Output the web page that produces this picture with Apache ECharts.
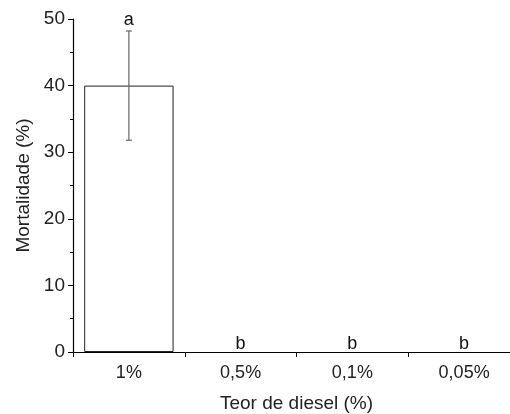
<!DOCTYPE html>
<html>
<head>
<meta charset="utf-8">
<script src="https://cdn.jsdelivr.net/npm/echarts@6/dist/echarts.min.js"></script>
<style>
  html, body { margin: 0; padding: 0; background: #fff; }
  #chart { width: 510px; height: 414px; }
</style>
</head>
<body>
<div id="chart"></div>
<script>
// dados
const categories = ["1%", "0,5%", "0,1%", "0,05%"];
const mortality = [40, 0, 0, 0];
const errors = [8.2, 0, 0, 0];
const letters = ["a", "b", "b", "b"];
const yTicks = [0, 10, 20, 30, 40, 50];

const font = "'Liberation Sans', Arial, sans-serif";

let myChart = echarts.init(document.getElementById("chart"));
let option = {
  animation: false,
  grid: {
    left: 73,
    top: 19,
    width: 447,
    height: 333,
    outerBoundsMode: "none",
  },
  xAxis: {
    type: "category",
    data: categories,
    name: "Teor de diesel (%)",
    nameLocation: "middle",
    nameGap: 42,
    nameTextStyle: { color: "#222", fontSize: 19, fontFamily: font },
    axisLine: { lineStyle: { color: "#000", width: 1.2 } },
    axisTick: { show: true, length: 5, lineStyle: { color: "#000" } },
    axisLabel: { color: "#222", fontSize: 18, fontFamily: font, margin: 12 },
  },
  yAxis: {
    type: "value",
    min: yTicks[0],
    max: yTicks[yTicks.length - 1],
    interval: 10,
    name: "Mortalidade (%)",
    nameLocation: "middle",
    nameGap: 39,
    nameTextStyle: { color: "#222", fontSize: 19, fontFamily: font },
    splitLine: { show: false },
    axisLine: { show: true, lineStyle: { color: "#000", width: 1.2 } },
    axisTick: { show: true, length: 5, lineStyle: { color: "#000" } },
    minorTick: { show: true, splitNumber: 2, length: 3, lineStyle: { color: "#000" } },
    axisLabel: { color: "#222", fontSize: 19, fontFamily: font, margin: 8 },
  },
  series: [
    {
      type: "bar",
      // barras com valor 0 não têm contorno
      data: mortality.map(v => ({
        value: v,
        itemStyle: { borderWidth: v > 0 ? 1 : 0 },
      })),
      barWidth: "80%",
      itemStyle: { color: "#fff", borderColor: "#222", borderWidth: 1 },
      z: 2,
    },
    {
      // barras de erro e letras
      type: "custom",
      data: mortality.map((v, i) => [i, v, errors[i]]),
      renderItem: function (params, api) {
        const i = api.value(0);
        const v = api.value(1);
        const e = api.value(2);
        const txt = letters[params.dataIndex];
        const top = api.coord([i, v + e]);
        const bot = api.coord([i, v - e]);
        const children = [];
        if (e > 0) {
          const style = { stroke: "#666", lineWidth: 1.2 };
          children.push(
            { type: "line", shape: { x1: top[0], y1: top[1], x2: bot[0], y2: bot[1] }, style: style },
            { type: "line", shape: { x1: top[0] - 3, y1: top[1], x2: top[0] + 3, y2: top[1] }, style: style },
            { type: "line", shape: { x1: bot[0] - 3, y1: bot[1], x2: bot[0] + 3, y2: bot[1] }, style: style }
          );
        }
        children.push({
          type: "text",
          style: {
            x: top[0],
            y: top[1] + (e > 0 ? -2 : 1),
            text: txt,
            fill: "#111",
            font: "18px " + font,
            textAlign: "center",
            textVerticalAlign: "bottom",
          },
        });
        return { type: "group", children: children };
      },
      z: 3,
    },
  ],
};
myChart.setOption(option);
window.addEventListener("resize", function () {
  myChart.resize();
});
</script>
</body>
</html>
